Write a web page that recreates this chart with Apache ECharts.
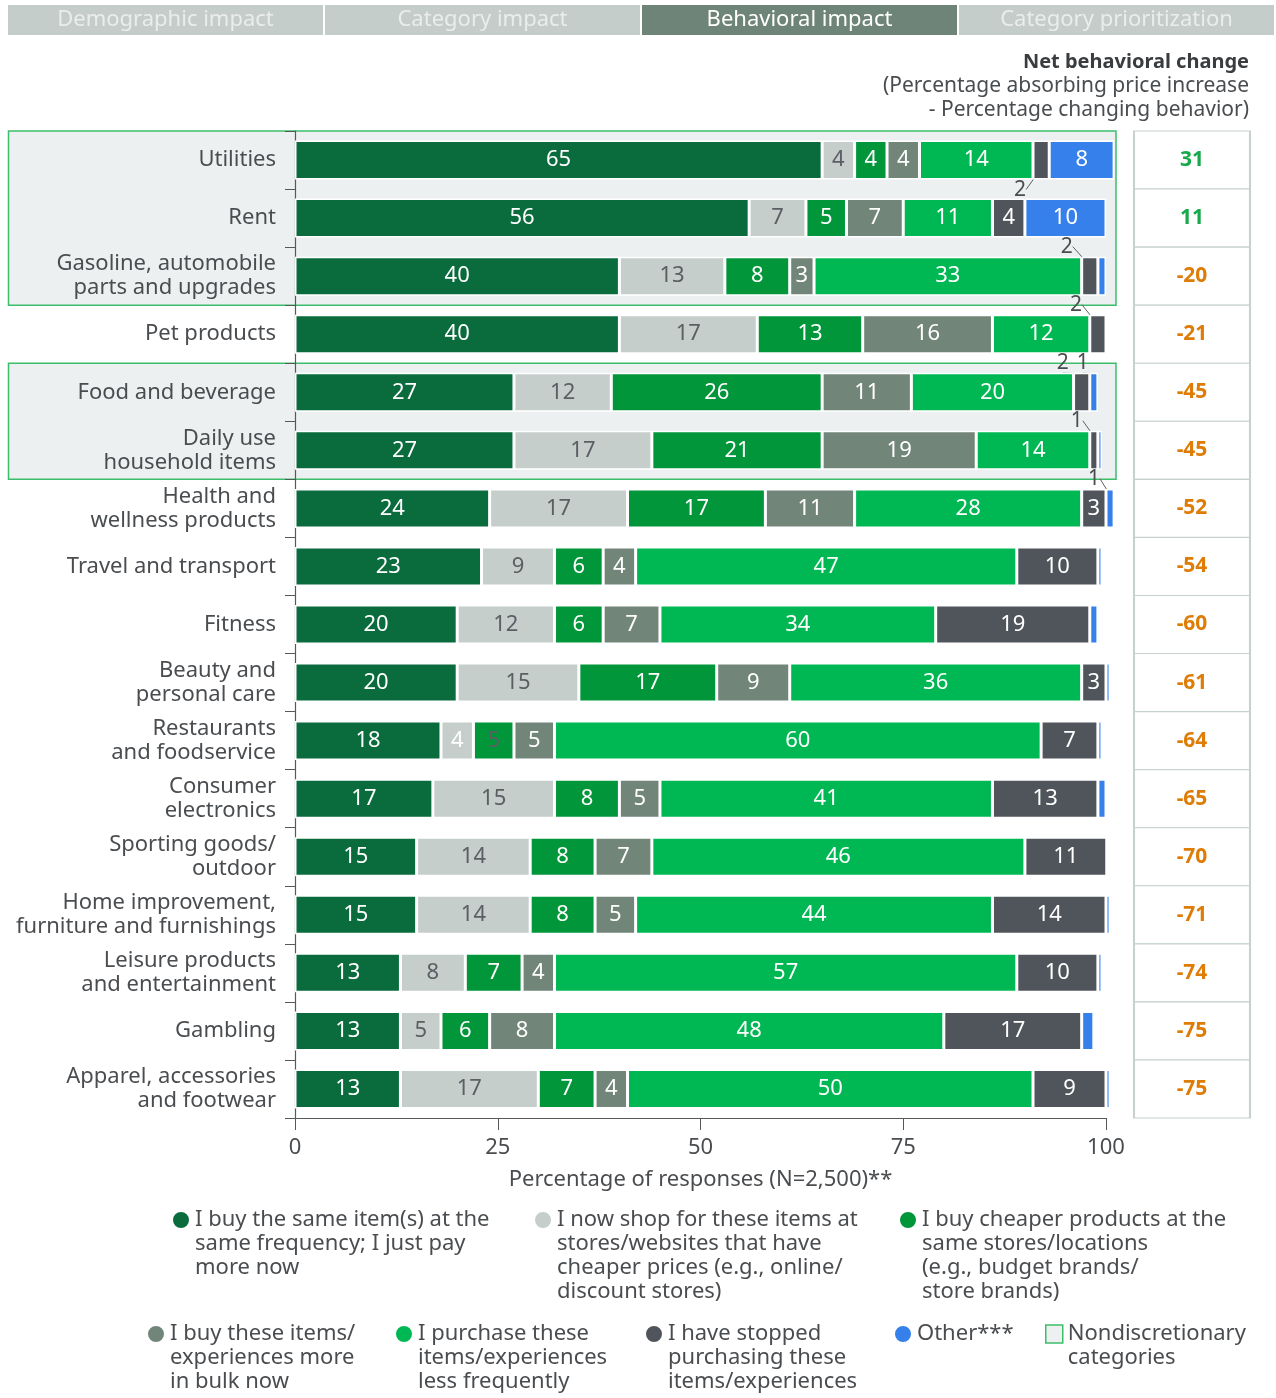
<!DOCTYPE html>
<html><head><meta charset="utf-8">
<script src="https://cdn.jsdelivr.net/npm/echarts@6/dist/echarts.min.js"></script>
<style>html,body{margin:0;padding:0;background:#fff}#c{width:1276px;height:1398px}</style>
</head><body><div id="c"></div>
<script>
const categories = ['Utilities','Rent','Gasoline, automobile\nparts and upgrades','Pet products','Food and beverage','Daily use\nhousehold items','Health and\nwellness products','Travel and transport','Fitness','Beauty and\npersonal care','Restaurants\nand foodservice','Consumer\nelectronics','Sporting goods/\noutdoor','Home improvement,\nfurniture and furnishings','Leisure products\nand entertainment','Gambling','Apparel, accessories\nand footwear'];
const sameItem        = [65,56,40,40,27,27,24,23,20,20,18,17,15,15,13,13,13];
const cheaperStores   = [4,7,13,17,12,17,17,9,12,15,4,15,14,14,8,5,17];
const cheaperProducts = [4,5,8,13,26,21,17,6,6,17,5,8,8,8,7,6,7];
const bulk            = [4,7,3,16,11,19,11,4,7,9,5,5,7,5,4,8,4];
const lessFrequent    = [14,11,33,12,20,14,28,47,34,36,60,41,46,44,57,48,50];
const stopped         = [2,4,2,2,2,1,3,10,19,3,7,13,11,14,10,17,9];
const other           = [8,10,1,0,1,0.5,1,0.5,1,0.5,0.5,1,0,0.5,0.5,1.5,0.5];
const netChange       = [31,11,-20,-21,-45,-45,-52,-54,-60,-61,-64,-65,-70,-71,-74,-75,-75];
const xTicks = [0,25,50,75,100];
const tabs = ['Demographic impact','Category impact','Behavioral impact','Category prioritization'];
const activeTab = 2;
const nondiscretionaryGroups = [[0,2],[4,5]];
// small values labelled outside with a leader line: [series, row, side, dx]
const callouts = [[5,0,'below',-21],[5,2,'above',-23],[5,3,'above',-22],[5,4,'above',-19],[6,4,'above',-11],[5,5,'above',-17],[6,6,'above',-16]];
const seriesNames = [
  'I buy the same item(s) at the same frequency; I just pay more now',
  'I now shop for these items at stores/websites that have cheaper prices (e.g., online/ discount stores)',
  'I buy cheaper products at the same stores/locations (e.g., budget brands/ store brands)',
  'I buy these items/ experiences more in bulk now',
  'I purchase these items/experiences less frequently',
  'I have stopped purchasing these items/experiences',
  'Other***'
];
const legendText = [
  'I buy the same item(s) at the\nsame frequency; I just pay\nmore now',
  'I now shop for these items at\nstores/websites that have\ncheaper prices (e.g., online/\ndiscount stores)',
  'I buy cheaper products at the\nsame stores/locations\n(e.g., budget brands/\nstore brands)',
  'I buy these items/\nexperiences more\nin bulk now',
  'I purchase these\nitems/experiences\nless frequently',
  'I have stopped\npurchasing these\nitems/experiences',
  'Other***'
];
const ndName = 'Nondiscretionary categories';
const ndLegend = 'Nondiscretionary\ncategories';
const headerTitle = 'Net behavioral change';
const headerSub = ['(Percentage absorbing price increase', '- Percentage changing behavior)'];
const seriesData = [sameItem, cheaperStores, cheaperProducts, bulk, lessFrequent, stopped, other];
const colors = ['#0a6b3d','#c5cecb','#009639','#728579','#00b853','#50555b','#3580ea'];
const labelColors = ['#fff','#5a5f63','#fff','#fff','#fff','#fff','#fff'];
const labelOverrides = [[1,10,'#fff'],[2,10,'#5a5f63']];

const FONT = 'Noto Sans';
const TXT = '#4a4d50';
const FS = 22;

const calloutMap = {};
callouts.forEach(c => { calloutMap[c[0]+'_'+c[1]] = { side: c[2], dx: c[3] }; });

const series = seriesData.map((arr, si) => ({
  name: seriesNames[si],
  type: 'bar',
  stack: 'total',
  barWidth: 39,
  clip: si !== seriesData.length - 1,
  xAxisIndex: 0, yAxisIndex: 0,
  itemStyle: { color: colors[si], borderColor: '#ffffff', borderWidth: 1.5 },
  label: { show: false },
  labelLine: { show: false },
  labelLayout: function (p) {
    const c = calloutMap[p.seriesIndex + '_' + p.dataIndex];
    if (!c) return {};
    return { dx: c.dx, dy: c.side === 'below' ? 3 : -3 };
  },
  data: arr.map((v, i) => {
    const item = { value: v };
    const c = calloutMap[si + '_' + i];
    if (c) {
      item.label = { show: true, position: c.side === 'below' ? 'bottom' : 'top', distance: 0, color: '#4a4d50',
        fontSize: 21, lineHeight: 14, fontFamily: FONT };
      item.labelLine = { show: true, lineStyle: { color: '#5a5f63', width: 1 } };
    } else if (v >= 3) {
      let col = labelColors[si];
      labelOverrides.forEach(o => { if (o[0] === si && o[1] === i) col = o[2]; });
      item.label = { show: true, position: 'inside', color: col, fontSize: FS, fontFamily: FONT };
    }
    return item;
  })
}));

series.push({
  name: 'net', type: 'scatter', xAxisIndex: 1, yAxisIndex: 1,
  symbol: 'rect', symbolSize: [116, 58], silent: true,
  itemStyle: { color: '#fff', borderColor: '#c8d1ce', borderWidth: 1.5, opacity: 1 },
  label: { show: true, position: 'inside', fontSize: 21, fontWeight: 'bold', fontFamily: FONT,
    formatter: p => String(p.value[2]) },
  data: netChange.map((v, i) => ({ value: [0.5, i, v], label: { color: v >= 0 ? '#19a94b' : '#de7c06' } }))
});
series.push({ name: ndName, type: 'line', xAxisIndex: 1, yAxisIndex: 1, data: [] });

function legendFor(name, text, left, cy, icon, w, h, style) {
  const n = text.split('\n').length;
  const d = { name: name };
  if (style) d.itemStyle = style;
  const padded = '\n'.repeat(n - 1) + text;
  return {
    data: [d], left: left, top: cy - (2 * n - 1) * 12, orient: 'vertical',
    icon: icon, itemWidth: w, itemHeight: h, selectedMode: false, padding: 0,
    formatter: () => padded,
    textStyle: { fontSize: FS, color: TXT, fontFamily: FONT, lineHeight: 24 }
  };
}
const legendPos = [[171,1220],[533,1220],[898,1220],[146,1334],[394,1334],[644,1334],[893,1334]];
const legends = seriesNames.map((nm, i) => legendFor(nm, legendText[i], legendPos[i][0], legendPos[i][1], 'circle', 18, 18));
legends.push(legendFor(ndName, ndLegend, 1045, 1334, 'rect', 17, 18, { color: '#edf0f0', borderColor: '#3cbd6a', borderWidth: 1.5 }));

const staticEls = [];
const tabW = 315, tabGap = 2, tabX0 = 8;
tabs.forEach((t, i) => {
  staticEls.push({ type: 'rect', id: 'tab' + i, shape: { x: tabX0 + i * (tabW + tabGap), y: 5, width: tabW, height: 30 },
    style: { fill: i === activeTab ? '#6e8478' : '#c5cdcb' } });
  staticEls.push({ type: 'text', id: 'tabt' + i, x: tabX0 + i * (tabW + tabGap) + tabW / 2, y: 20,
    style: { text: t, fill: i === activeTab ? '#ffffff' : '#e9edec', font: FS + 'px "' + FONT + '"', align: 'center', verticalAlign: 'middle' } });
});
staticEls.push({ type: 'text', id: 'hdr0', x: 1249, y: 62,
  style: { text: headerTitle, fill: '#3a3d40', font: 'bold 20px "' + FONT + '"', align: 'right', verticalAlign: 'middle' } });
headerSub.forEach((s, k) => staticEls.push({ type: 'text', id: 'hdr' + (k + 1), x: 1249, y: 86 + 24 * k,
  style: { text: s, fill: TXT, font: '21px "' + FONT + '"', align: 'right', verticalAlign: 'middle' } }));

const option = {
  animation: false,
  color: colors.concat(['#fff', '#edf0f0']),
  legend: legends,
  grid: [
    { left: 295, right: 170, top: 131, bottom: 280, containLabel: false },
    { left: 1134, width: 116, top: 131, bottom: 280, containLabel: false }
  ],
  xAxis: [
    { type: 'value', gridIndex: 0, min: xTicks[0], max: xTicks[xTicks.length - 1], interval: xTicks[1] - xTicks[0],
      axisLine: { show: true, lineStyle: { color: '#55595c', width: 1.2 } },
      axisTick: { show: true, length: 12, lineStyle: { color: '#55595c' } },
      splitLine: { show: false },
      axisLabel: { fontSize: FS, color: TXT, fontFamily: FONT, margin: 19 },
      name: 'Percentage of responses (N=2,500)**', nameLocation: 'middle', nameGap: 51,
      nameTextStyle: { fontSize: FS, color: TXT, fontFamily: FONT } },
    { type: 'value', gridIndex: 1, min: 0, max: 1, show: false }
  ],
  yAxis: [
    { type: 'category', gridIndex: 0, data: categories, inverse: true,
      axisLine: { show: true, lineStyle: { color: '#55595c', width: 1.2 } },
      axisTick: { show: true, length: 10, lineStyle: { color: '#55595c' } },
      axisLabel: { fontSize: FS, color: TXT, fontFamily: FONT, margin: 19, lineHeight: 24, align: 'right' } },
    { type: 'category', gridIndex: 1, data: categories, inverse: true, show: false }
  ],
  graphic: { elements: staticEls },
  series: series
};

const chart = echarts.init(document.getElementById('c'), null, { renderer: 'canvas' });
chart.setOption(option);

const y0 = chart.convertToPixel({ yAxisIndex: 0 }, 0);
const y1 = chart.convertToPixel({ yAxisIndex: 0 }, 1);
const band = y1 - y0;
const xRight = chart.convertToPixel({ xAxisIndex: 0 }, xTicks[xTicks.length - 1]) + 10;
const boxEls = nondiscretionaryGroups.map((g, k) => {
  const top = chart.convertToPixel({ yAxisIndex: 0 }, g[0]) - band / 2;
  const bottom = chart.convertToPixel({ yAxisIndex: 0 }, g[1]) + band / 2;
  return { type: 'rect', id: 'nd' + k, z: -10, shape: { x: 8.5, y: top, width: xRight - 8.5, height: bottom - top },
    style: { fill: '#edf0f0', stroke: '#3cbd6a', lineWidth: 1.5 } };
});
chart.setOption({ graphic: { elements: staticEls.concat(boxEls) } });
</script>
</body></html>
